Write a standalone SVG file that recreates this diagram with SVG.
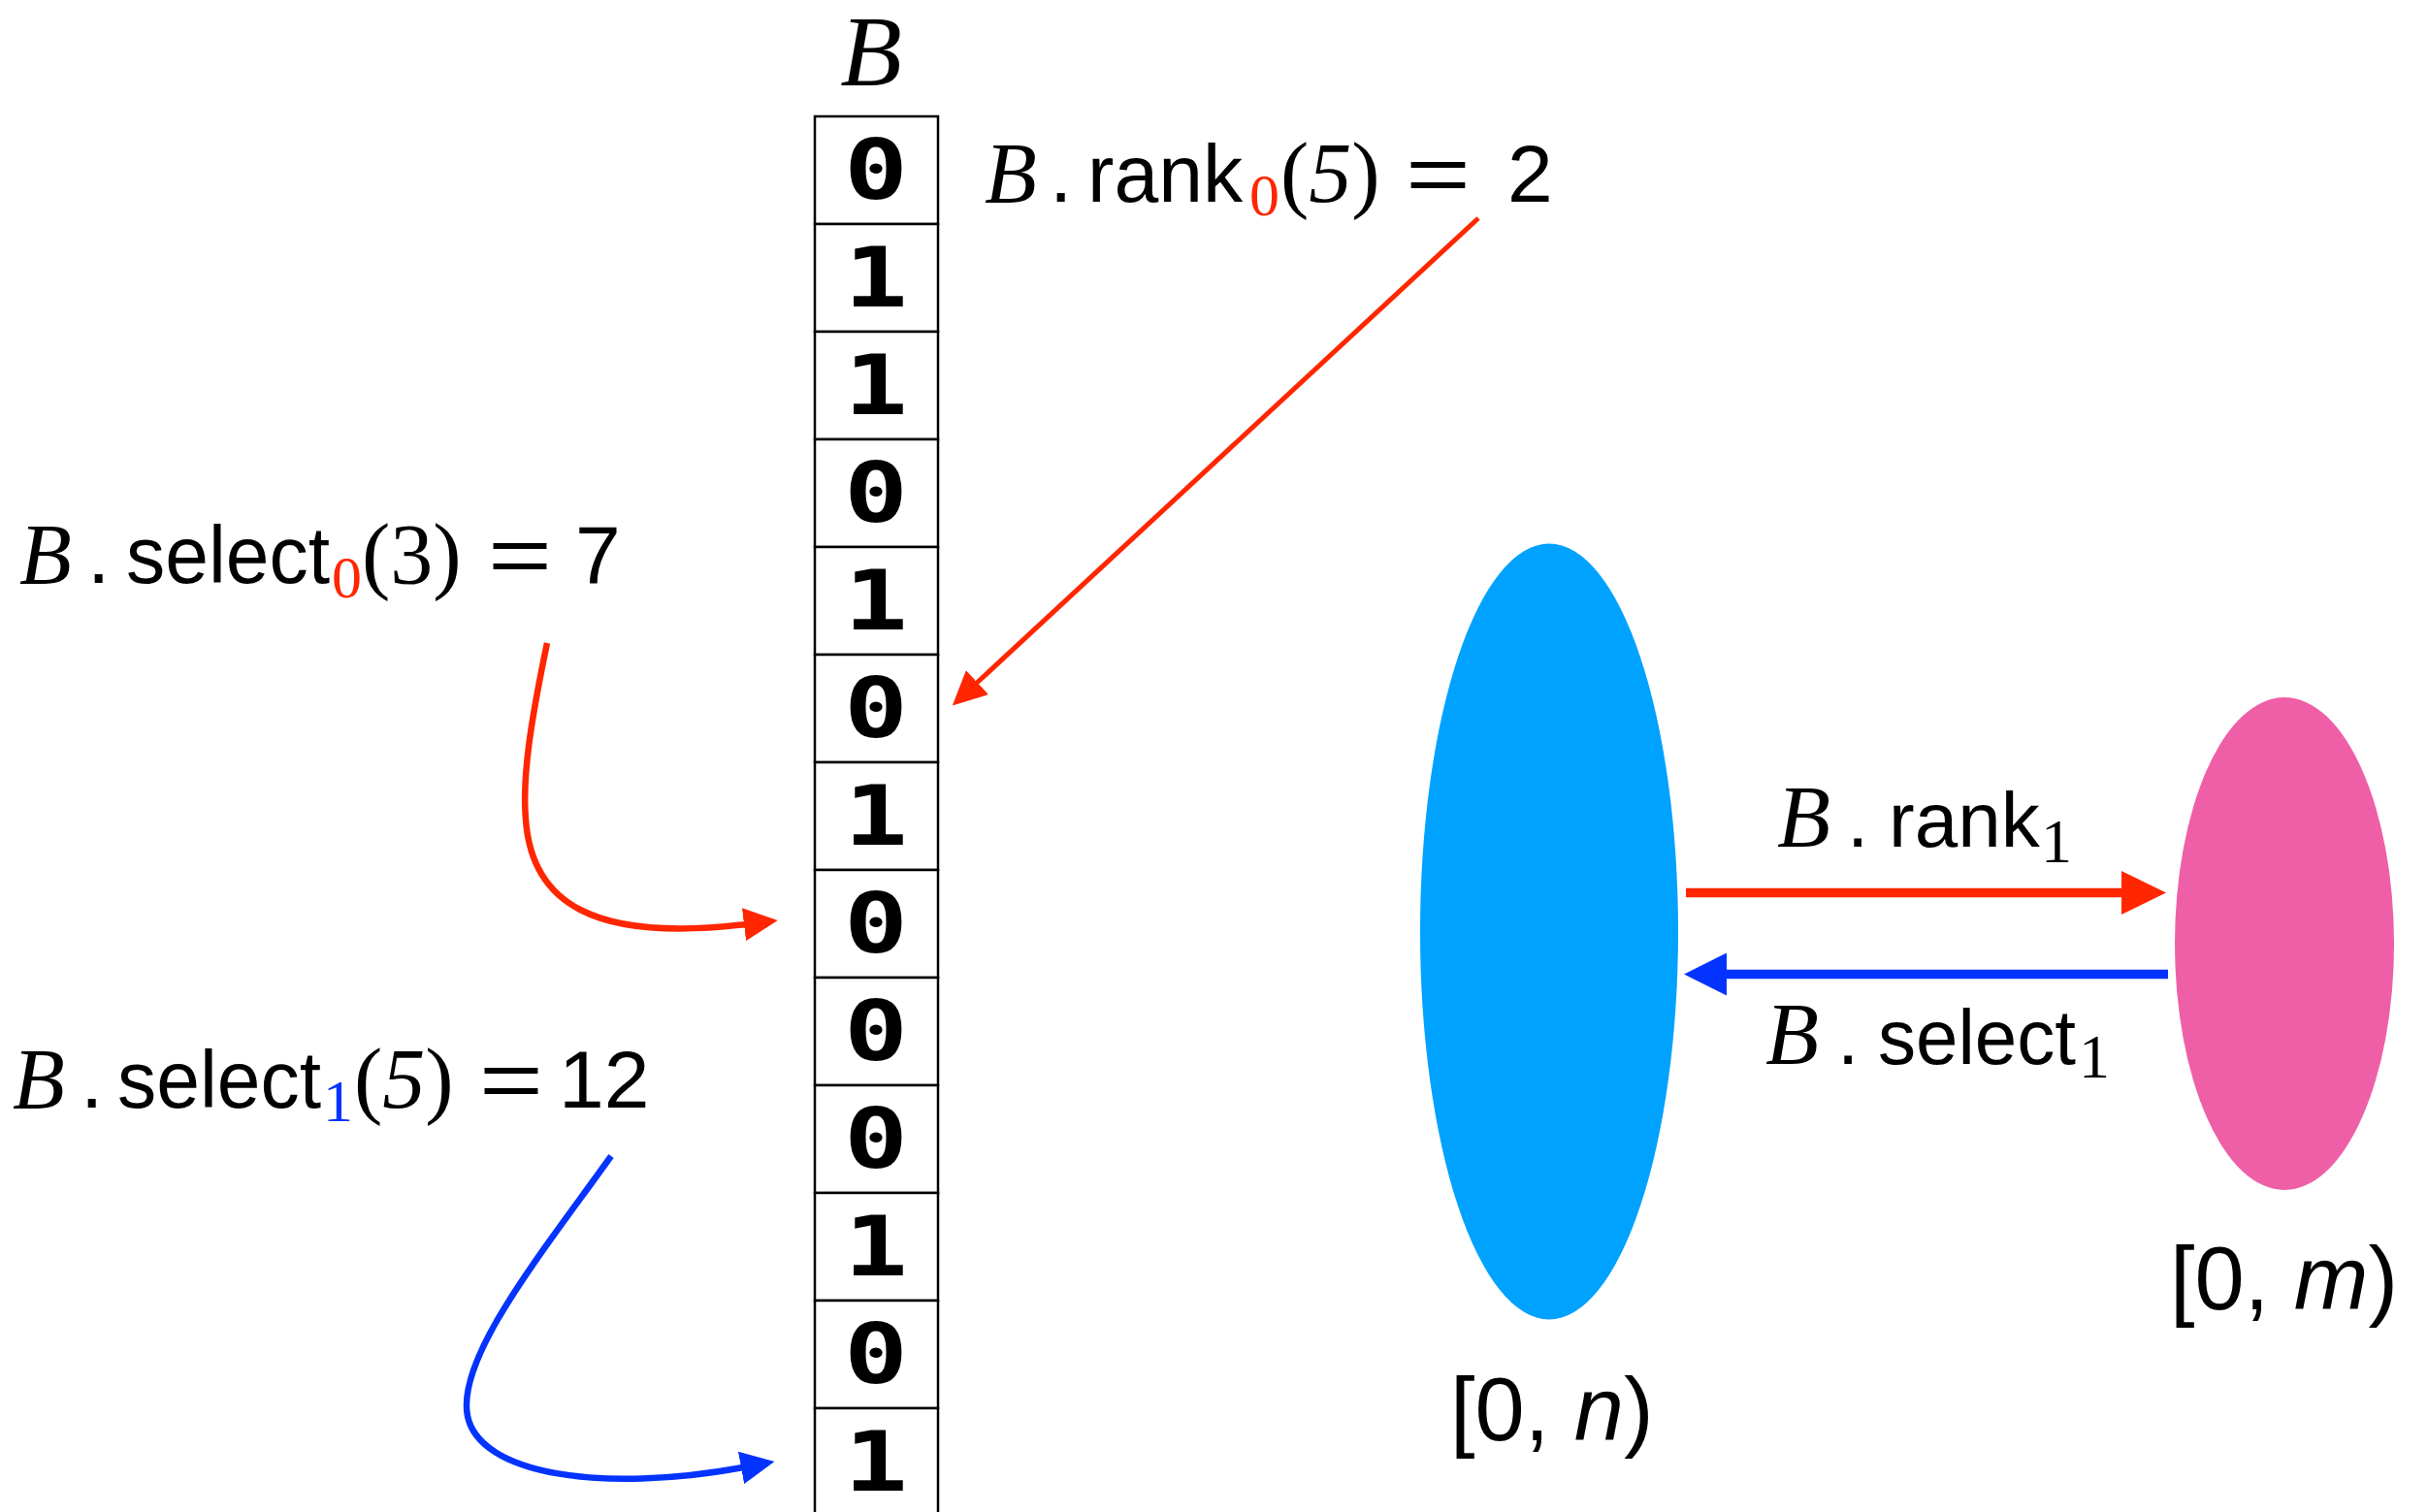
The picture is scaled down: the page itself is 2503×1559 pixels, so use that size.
<svg xmlns="http://www.w3.org/2000/svg" width="2503" height="1559" viewBox="0 0 2503 1559">
<style>
.serif{font-family:"Liberation Serif","Times New Roman",serif;}
.it{font-style:italic;}
.sans{font-family:"Liberation Sans",Arial,sans-serif;}
.mono{font-family:"DejaVu Sans Mono",monospace;font-weight:bold;font-size:86px;}
.cell{fill:#fff;stroke:#000;stroke-width:2.5;}
.red{fill:#FF2600;}
.blue{fill:#0433FF;}
</style>
<defs>
<marker id="ahRed" markerUnits="userSpaceOnUse" markerWidth="35" markerHeight="34" viewBox="0 0 35 34" refX="2" refY="17" orient="auto"><path d="M0,0 L35,17 L0,34 z" fill="#FF2600"/></marker>
<marker id="ahBlue" markerUnits="userSpaceOnUse" markerWidth="35" markerHeight="34" viewBox="0 0 35 34" refX="2" refY="17" orient="auto"><path d="M0,0 L35,17 L0,34 z" fill="#0433FF"/></marker>
<marker id="ahRedBig" markerUnits="userSpaceOnUse" markerWidth="46" markerHeight="45" viewBox="0 0 46 45" refX="2" refY="22.5" orient="auto"><path d="M0,0 L46,22.5 L0,45 z" fill="#FF2600"/></marker>
<marker id="ahBlueBig" markerUnits="userSpaceOnUse" markerWidth="44" markerHeight="44" viewBox="0 0 44 44" refX="2" refY="22" orient="auto"><path d="M0,0 L44,22 L0,44 z" fill="#0433FF"/></marker>
</defs>
<rect width="2503" height="1559" fill="#fff"/>

<g id="title-B">
<text class="serif it" x="898" y="88" font-size="104" text-anchor="middle">B</text>
</g>

<g id="bitvector">
<rect class="cell" x="840" y="120" width="127" height="111"/>
<rect class="cell" x="840" y="231" width="127" height="111"/>
<rect class="cell" x="840" y="342" width="127" height="111"/>
<rect class="cell" x="840" y="453" width="127" height="111"/>
<rect class="cell" x="840" y="564" width="127" height="111"/>
<rect class="cell" x="840" y="675" width="127" height="111"/>
<rect class="cell" x="840" y="786" width="127" height="111"/>
<rect class="cell" x="840" y="897" width="127" height="111"/>
<rect class="cell" x="840" y="1008" width="127" height="111"/>
<rect class="cell" x="840" y="1119" width="127" height="111"/>
<rect class="cell" x="840" y="1230" width="127" height="111"/>
<rect class="cell" x="840" y="1341" width="127" height="111"/>
<rect class="cell" x="840" y="1452" width="127" height="111"/>
<text class="mono" x="870" y="205" textLength="66" lengthAdjust="spacingAndGlyphs">0</text>
<text class="mono" x="870" y="316" textLength="66" lengthAdjust="spacingAndGlyphs">1</text>
<text class="mono" x="870" y="427" textLength="66" lengthAdjust="spacingAndGlyphs">1</text>
<text class="mono" x="870" y="538" textLength="66" lengthAdjust="spacingAndGlyphs">0</text>
<text class="mono" x="870" y="649" textLength="66" lengthAdjust="spacingAndGlyphs">1</text>
<text class="mono" x="870" y="760" textLength="66" lengthAdjust="spacingAndGlyphs">0</text>
<text class="mono" x="870" y="871" textLength="66" lengthAdjust="spacingAndGlyphs">1</text>
<text class="mono" x="870" y="982" textLength="66" lengthAdjust="spacingAndGlyphs">0</text>
<text class="mono" x="870" y="1093" textLength="66" lengthAdjust="spacingAndGlyphs">0</text>
<text class="mono" x="870" y="1204" textLength="66" lengthAdjust="spacingAndGlyphs">0</text>
<text class="mono" x="870" y="1315" textLength="66" lengthAdjust="spacingAndGlyphs">1</text>
<text class="mono" x="870" y="1426" textLength="66" lengthAdjust="spacingAndGlyphs">0</text>
<text class="mono" x="870" y="1537" textLength="66" lengthAdjust="spacingAndGlyphs">1</text>
</g>

<g id="label-rank0">
<text class="serif it" x="1015" y="208" font-size="88">B</text>
<text class="sans" x="1082" y="208" font-size="84">.</text>
<text class="sans" x="1121" y="208" font-size="84" textLength="160" lengthAdjust="spacingAndGlyphs">rank</text>
<text class="serif red" x="1288" y="222" font-size="62">0</text>
<text class="serif" x="1320" y="208" font-size="88">(<tspan font-style="italic">5</tspan>)</text>
<text class="sans" x="1449" y="208" font-size="84" textLength="67" lengthAdjust="spacingAndGlyphs">=</text>
<text class="sans" x="1554" y="208" font-size="84">2</text>
</g>

<g id="label-select0">
<text class="serif it" x="20" y="601" font-size="88">B</text>
<text class="sans" x="90" y="601" font-size="84">.</text>
<text class="sans" x="130" y="601" font-size="84" textLength="210" lengthAdjust="spacingAndGlyphs">select</text>
<text class="serif red" x="342" y="616" font-size="62">0</text>
<text class="serif" x="373" y="601" font-size="88">(3)</text>
<text class="sans" x="503" y="601" font-size="84" textLength="66" lengthAdjust="spacingAndGlyphs">=</text>
<text class="sans" x="593" y="601" font-size="84">7</text>
</g>

<g id="label-select1">
<text class="serif it" x="13" y="1142" font-size="88">B</text>
<text class="sans" x="83" y="1142" font-size="84">.</text>
<text class="sans" x="121" y="1142" font-size="84" textLength="210" lengthAdjust="spacingAndGlyphs">select</text>
<text class="serif blue" x="333" y="1156" font-size="62">1</text>
<text class="serif" x="365" y="1142" font-size="88">(<tspan font-style="italic">5</tspan>)</text>
<text class="sans" x="494" y="1142" font-size="84" textLength="66" lengthAdjust="spacingAndGlyphs">=</text>
<text class="sans" x="576" y="1142" font-size="84">12</text>
</g>

<g id="set-n">
<ellipse cx="1597" cy="960.5" rx="133" ry="400" fill="#00A2FF"/>
<text class="sans" x="1495" y="1485" font-size="92">[0, <tspan font-style="italic">n</tspan>)</text>
</g>

<g id="set-m">
<ellipse cx="2355" cy="973" rx="113" ry="254" fill="#EF5FA8"/>
<text class="sans" x="2237" y="1350" font-size="92">[0, <tspan font-style="italic">m</tspan>)</text>
</g>

<g id="label-rank1">
<text class="serif it" x="1832" y="873" font-size="90">B</text>
<text class="sans" x="1904" y="873" font-size="80">.</text>
<text class="sans" x="1947" y="873" font-size="80">rank</text>
<text class="serif" x="2104" y="889" font-size="64">1</text>
</g>

<g id="label-select1-map">
<text class="serif it" x="1820" y="1097" font-size="90">B</text>
<text class="sans" x="1894" y="1097" font-size="80">.</text>
<text class="sans" x="1936" y="1097" font-size="80" textLength="204" lengthAdjust="spacingAndGlyphs">select</text>
<text class="serif" x="2143" y="1111" font-size="64">1</text>
</g>

<g id="connectors" fill="none">
<path d="M1524,225 L1006,705" stroke="#FF2600" stroke-width="5" marker-end="url(#ahRed)"/>
<path d="M564,663 C548,740 538,800 542,845 C548,930 610,972 769,953" stroke="#FF2600" stroke-width="6.5" marker-end="url(#ahRed)"/>
<path d="M630,1192 C560,1290 470,1400 482,1460 C494,1520 620,1540 766,1513" stroke="#0433FF" stroke-width="6.5" marker-end="url(#ahBlue)"/>
<path d="M1738,920.5 L2189,920.5" stroke="#FF2600" stroke-width="9.5" marker-end="url(#ahRedBig)"/>
<path d="M2235,1004.5 L1778,1004.5" stroke="#0433FF" stroke-width="9.5" marker-end="url(#ahBlueBig)"/>
</g>
</svg>
